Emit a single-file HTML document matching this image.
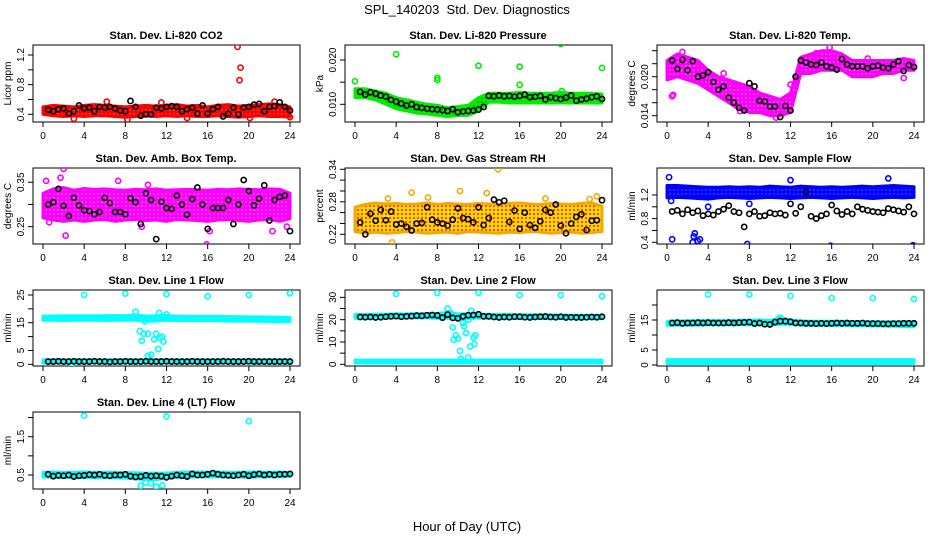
<!DOCTYPE html>
<html><head><meta charset="utf-8"><style>
body{margin:0;background:#fff;width:936px;height:540px;overflow:hidden}
svg{display:block;font-family:"Liberation Sans",sans-serif}
</style></head><body>
<svg id="chart" width="936" height="540" viewBox="0 0 936 540" xmlns="http://www.w3.org/2000/svg">
<defs>
<pattern id="pat-red" width="4" height="4" patternUnits="userSpaceOnUse"><rect width="4" height="4" fill="#ff0000"/><circle cx="2" cy="2" r="0.8" fill="#ff6060"/></pattern>
<pattern id="pat-green" width="4" height="4" patternUnits="userSpaceOnUse"><rect width="4" height="4" fill="#00ee00"/><circle cx="2" cy="2" r="0.9" fill="#008800"/></pattern>
<pattern id="pat-mag" width="4" height="4" patternUnits="userSpaceOnUse"><rect width="4" height="4" fill="#ff00ff"/><circle cx="2" cy="2" r="0.8" fill="#ff80ff"/></pattern>
<pattern id="pat-rh" width="4" height="4" patternUnits="userSpaceOnUse"><rect width="4" height="4" fill="#ffdd00"/><circle cx="2" cy="2" r="1.1" fill="#ff3300"/></pattern>
<pattern id="pat-blue" width="4" height="4" patternUnits="userSpaceOnUse"><rect width="4" height="4" fill="#0000ff"/><circle cx="2" cy="2" r="0.8" fill="#6060ff"/></pattern>
<pattern id="pat-cyan" width="4" height="4" patternUnits="userSpaceOnUse"><rect width="4" height="4" fill="#00ffff"/></pattern>
</defs>
<text x="467" y="14" text-anchor="middle" font-size="13" style="white-space:pre">SPL_140203  Std. Dev. Diagnostics</text>
<text x="467" y="531" text-anchor="middle" font-size="13">Hour of Day (UTC)</text>
</svg>
<script>
const xTicks=[0,4,8,12,16,20,24];
const hours=[0,1,2,3,4,5,6,7,8,9,10,11,12,13,14,15,16,17,18,19,20,21,22,23,24];
const blackTimes=[0.5,1,1.5,2,2.5,3,3.5,4,4.5,5,5.5,6,6.5,7,7.5,8,8.5,9,9.5,10,10.5,11,11.5,12,12.5,13,13.5,14,14.5,15,15.5,16,16.5,17,17.5,18,18.5,19,19.5,20,20.5,21,21.5,22,22.5,23,23.5,24];

const titles=["Stan. Dev. Li-820 CO2","Stan. Dev. Li-820 Pressure","Stan. Dev. Li-820 Temp.","Stan. Dev. Amb. Box Temp.","Stan. Dev. Gas Stream RH","Stan. Dev. Sample Flow","Stan. Dev. Line 1 Flow","Stan. Dev. Line 2 Flow","Stan. Dev. Line 3 Flow","Stan. Dev. Line 4 (LT) Flow"];
const yLabels=["Licor ppm","kPa","degrees C","degrees C","percent","ml/min","ml/min","ml/min","ml/min","ml/min"];
const yLims=[[0.296,1.335],[0.0060,0.0234],[0.01303,0.02488],[0.211,0.382],[0.2021,0.3424],[0.371,1.656],[-0.6,26.8],[-0.76,33.3],[-0.33,25],[0.135,2.145]];
const yTicks=[[0.4,0.6,0.8,1.0,1.2],[0.010,0.015,0.020],[0.014,0.016,0.018,0.020,0.022,0.024],[0.25,0.30,0.35],[0.22,0.24,0.26,0.28,0.30,0.32,0.34],[0.4,0.6,0.8,1.0,1.2],[0,5,10,15,20,25],[0,5,10,15,20,25,30],[0,5,10,15,20],[0.5,1.0,1.5,2.0]];
const yTickLabels=[["0.4","","0.8","","1.2"],["0.010","","0.020"],["0.014","","","0.020","",""],["0.25","","0.35"],["0.22","","","0.28","","","0.34"],["0.4","","0.8","","1.2"],["0","5","","15","","25"],["0","","10","","20","","30"],["0","5","","15",""],["0.5","","1.5",""]];
const colors=["#ff0000","#00ee00","#ff00ff","#ff00ff","#f5a800","#0000ff","#00ffff","#00ffff","#00ffff","#00ffff"];
const fills=["url(#pat-red)","url(#pat-green)","url(#pat-mag)","url(#pat-mag)","url(#pat-rh)","url(#pat-blue)","url(#pat-cyan)","url(#pat-cyan)","url(#pat-cyan)","url(#pat-cyan)"];

const co2Lo=[0.40,0.38,0.37,0.38,0.37,0.38,0.38,0.37,0.36,0.37,0.38,0.37,0.38,0.37,0.38,0.37,0.37,0.38,0.37,0.36,0.37,0.38,0.37,0.37,0.36];
const co2Hi=[0.50,0.52,0.51,0.50,0.52,0.53,0.52,0.51,0.50,0.51,0.52,0.51,0.52,0.53,0.51,0.52,0.50,0.52,0.53,0.51,0.52,0.53,0.54,0.53,0.50];
const presLo=[0.0115,0.0115,0.0110,0.0100,0.0090,0.0085,0.0080,0.0078,0.0075,0.0072,0.0075,0.0075,0.0085,0.0105,0.0105,0.0103,0.0103,0.0103,0.0103,0.0103,0.0103,0.0103,0.0103,0.0103,0.0103];
const presHi=[0.0135,0.0135,0.0130,0.0125,0.0115,0.0110,0.0105,0.0100,0.0098,0.0092,0.0095,0.0098,0.0115,0.0125,0.0125,0.0125,0.0127,0.0125,0.0125,0.0125,0.0127,0.0125,0.0125,0.0125,0.0123];
const tempLo=[0.0195,0.0200,0.0195,0.0190,0.0180,0.0170,0.0160,0.0150,0.0145,0.0145,0.0140,0.0140,0.0145,0.0205,0.0205,0.0210,0.0210,0.0210,0.0200,0.0200,0.0200,0.0205,0.0205,0.0210,0.0210];
const tempHi=[0.0225,0.0235,0.0230,0.0225,0.0210,0.0200,0.0195,0.0190,0.0185,0.0175,0.0170,0.0165,0.0175,0.0230,0.0235,0.0240,0.0240,0.0235,0.0225,0.0225,0.0225,0.0225,0.0225,0.0228,0.0225];
const ambLo=[0.270,0.265,0.262,0.265,0.262,0.265,0.266,0.262,0.265,0.266,0.264,0.265,0.262,0.266,0.265,0.264,0.262,0.265,0.266,0.264,0.262,0.265,0.266,0.262,0.268];
const ambHi=[0.325,0.335,0.338,0.332,0.336,0.334,0.335,0.333,0.332,0.334,0.333,0.335,0.332,0.333,0.334,0.333,0.332,0.334,0.333,0.335,0.334,0.333,0.335,0.334,0.325];
const rhLo=[0.225,0.222,0.224,0.222,0.223,0.225,0.224,0.222,0.223,0.224,0.222,0.225,0.224,0.223,0.222,0.224,0.223,0.225,0.224,0.222,0.223,0.224,0.222,0.223,0.225];
const rhHi=[0.270,0.275,0.278,0.276,0.277,0.275,0.276,0.278,0.275,0.277,0.276,0.275,0.277,0.276,0.275,0.277,0.278,0.276,0.275,0.277,0.276,0.275,0.277,0.278,0.272];
const flowLo=[1.15,1.16,1.15,1.14,1.13,1.15,1.16,1.15,1.14,1.15,1.16,1.15,1.14,1.15,1.16,1.15,1.14,1.15,1.16,1.15,1.14,1.15,1.16,1.15,1.16];
const flowHi=[1.36,1.36,1.35,1.34,1.33,1.33,1.34,1.33,1.34,1.33,1.35,1.34,1.33,1.35,1.34,1.33,1.34,1.33,1.34,1.35,1.34,1.35,1.36,1.35,1.34];
const l1HiLo=[15.9,15.9,15.8,15.9,15.9,15.9,15.8,15.9,15.9,15.9,15.6,15.6,15.9,15.8,15.8,15.7,15.8,15.7,15.6,15.6,15.6,15.5,15.5,15.4,15.4];
const l1HiHi=[17.4,17.4,17.5,17.5,17.5,17.5,17.5,17.6,17.5,17.8,17.4,17.5,17.6,17.4,17.3,17.3,17.3,17.3,17.2,17.2,17.1,17.1,17.0,17.0,16.9];
const l1LoLo=hours.map(()=>0.5);
const l1LoHi=hours.map(()=>1.6);
const l2HiLo=[20.6,20.6,20.7,20.7,20.8,20.8,20.8,20.8,20.6,20.6,20.5,20.5,20.7,20.7,20.6,20.6,20.5,20.5,20.5,20.5,20.5,20.5,20.4,20.4,20.4];
const l2HiHi=[22.3,22.3,22.4,22.5,22.6,22.6,22.7,22.7,22.8,23.2,22.6,22.6,22.5,22.4,22.3,22.3,22.2,22.2,22.2,22.1,22.1,22.0,22.0,22.0,21.9];
const l2LoLo=hours.map(()=>0.6);
const l2LoHi=hours.map(()=>1.9);
const l3HiLo=[13.2,13.3,13.3,13.3,13.4,13.4,13.4,13.4,13.4,13.4,13.4,13.6,13.6,13.3,13.2,13.2,13.2,13.2,13.1,13.1,13.0,13.0,12.9,12.8,12.8];
const l3HiHi=[14.6,14.7,14.7,14.8,14.8,14.8,14.8,14.9,14.9,15.0,14.8,15.8,15.0,14.7,14.6,14.6,14.6,14.6,14.5,14.5,14.5,14.4,14.4,14.4,14.3];
const l3LoLo=hours.map(()=>0.5);
const l3LoHi=hours.map(()=>1.8);
const l4Lo=[0.45,0.44,0.44,0.43,0.44,0.43,0.43,0.43,0.42,0.40,0.38,0.38,0.42,0.44,0.44,0.45,0.45,0.45,0.45,0.45,0.44,0.45,0.45,0.45,0.46];
const l4Hi=[0.57,0.58,0.57,0.57,0.58,0.57,0.57,0.57,0.56,0.56,0.55,0.55,0.55,0.57,0.58,0.58,0.58,0.58,0.57,0.57,0.58,0.58,0.57,0.58,0.56];
const bands=[[[co2Lo,co2Hi]],[[presLo,presHi]],[[tempLo,tempHi]],[[ambLo,ambHi]],[[rhLo,rhHi]],[[flowLo,flowHi]],[[l1HiLo,l1HiHi],[l1LoLo,l1LoHi]],[[l2HiLo,l2HiHi],[l2LoLo,l2LoHi]],[[l3HiLo,l3HiHi],[l3LoLo,l3LoHi]],[[l4Lo,l4Hi]]];

const outX=[[18.9,19.1,19.2,8.2,14,20.1,24,6.2,22.5,3.0,11.5],
[0,4,8,8,12,16,16,20,24,5.2,20.1],
[0.5,0.6,1.5,5.5,7.1,9.5,10.0,10.6,11.5,12,15.8,23,14.5,19.5],
[0.3,1.7,2.0,2.2,7.3,10.2,15.9,0.6,22.3,23.7,9.6,16.2],
[13.9,10.2,5.5,3.2,7.1,23.5,0.3,3.6,22.8,12.8,18.5],
[0.2,0.5,2.5,2.6,2.7,3.0,3.2,7.8,15.9,23.9,12.0,21.5,4,8,0.4],
[4,8,12,16,20,24,9,9.4,9.8,9.6,10.2,10.2,10.5,10.8,11,11.2,11.3,11.4,11.6,11.7,12.0,9.9,2.8],
[4,8,12,16,20,24,9,9.3,9.5,9.8,10,10.2,10.3,10.5,10.6,10.8,11,11.2,11.5,11.7,11.3,11,9.6,11.6],
[4,8,12,16,20,24,11,10.9],
[4,12,20,9.5,10.5,11,11.6,10]];
const outY=[[1.31,0.86,1.03,0.33,0.35,0.35,0.36,0.57,0.57,0.34,0.56],
[0.0152,0.0213,0.0155,0.0160,0.0187,0.0185,0.0144,0.0236,0.0182,0.0105,0.0130],
[0.0170,0.0172,0.0238,0.0205,0.0147,0.0146,0.0145,0.0137,0.0150,0.0188,0.0245,0.0198,0.0236,0.0228],
[0.353,0.36,0.38,0.23,0.353,0.344,0.210,0.26,0.24,0.25,0.25,0.24],
[0.34,0.30,0.297,0.286,0.288,0.29,0.25,0.205,0.285,0.296,0.286],
[1.5,0.45,0.4,0.5,0.55,0.42,0.45,0.37,0.34,0.35,1.45,1.48,1.0,1.05,1.1],
[25,25.5,25.3,24.5,25,25.6,19,12,11,8.5,11,3,3.5,9,11,5.5,18.5,9.5,10,8.2,18,15.5,0.2],
[31.5,32,32,31,31,30.5,25,23,16.5,13,11.5,6,2.5,18.5,17,14,3,8,12,13,24,20,11,9],
[23.5,23.5,23,22.3,22.3,22,15.8,15],
[2.05,2.03,1.9,0.22,0.28,0.2,0.23,0.3]];

const blackVals=[
[0.46,0.44,0.47,0.48,0.41,0.44,0.52,0.48,0.49,0.44,0.50,0.49,0.50,0.48,0.45,0.44,0.58,0.50,0.38,0.40,0.40,0.49,0.48,0.50,0.51,0.50,0.44,0.47,0.49,0.41,0.52,0.41,0.47,0.50,0.37,0.41,0.49,0.40,0.49,0.50,0.53,0.54,0.44,0.50,0.51,0.56,0.50,0.45],
[.0128,.0122,.0127,.0124,.0120,.0117,.0110,.0106,.0102,.0097,.0100,.0094,.0092,.0090,.0089,.0088,.0087,.0085,.0089,.0082,.0084,.0085,.0086,.0088,.0094,.0119,.0118,.0120,.0118,.0119,.0117,.0119,.0122,.0116,.0117,.0119,.0111,.0116,.0114,.0112,.0115,.0120,.0108,.0111,.0113,.0116,.0118,.0112],
[.0225,.0212,.0226,.0210,.0224,.0200,.0202,.0207,.0192,.0180,.0185,.0168,.0160,.0152,.0148,.0190,.0185,.0163,.0162,.0154,.0154,.0138,.0155,.0148,.0200,.0225,.0222,.0219,.0218,.0222,.0216,.0214,.0211,.0227,.0219,.0216,.0216,.0216,.0213,.0216,.0217,.0214,.0213,.0219,.0224,.0209,.0218,.0215],
[0.30,0.305,0.335,0.297,0.274,0.315,0.298,0.287,0.285,0.278,0.283,0.315,0.303,0.283,0.283,0.278,0.314,0.305,0.256,0.325,0.310,0.222,0.306,0.292,0.290,0.320,0.300,0.277,0.312,0.338,0.300,0.245,0.292,0.292,0.292,0.310,0.256,0.300,0.355,0.330,0.298,0.313,0.343,0.264,0.310,0.317,0.320,0.240],
[0.242,0.22,0.258,0.245,0.265,0.246,0.262,0.238,0.24,0.234,0.227,0.240,0.241,0.270,0.247,0.242,0.240,0.236,0.247,0.268,0.250,0.248,0.242,0.270,0.237,0.250,0.284,0.279,0.282,0.243,0.264,0.230,0.260,0.237,0.232,0.244,0.265,0.260,0.275,0.236,0.222,0.240,0.252,0.257,0.228,0.245,0.246,0.283],
[0.92,0.94,0.88,0.95,0.90,0.93,0.85,0.88,0.86,0.92,0.96,1.02,0.92,0.90,0.66,0.88,0.92,0.84,0.85,0.90,0.88,0.89,0.86,1.05,0.89,1.00,1.25,0.84,0.80,0.85,0.88,1.03,0.93,0.87,0.92,0.88,1.00,0.96,0.94,0.92,0.91,0.90,0.97,0.95,0.93,0.91,1.00,0.88],
[1.0,1.0,1.1,1.0,1.0,1.1,1.0,1.0,1.0,1.1,1.0,1.0,0.9,1.0,1.0,1.1,1.0,1.0,1.0,1.1,1.0,1.0,1.0,1.1,1.0,1.0,1.0,1.0,1.1,1.0,1.0,1.0,1.0,1.0,1.1,1.0,1.0,1.0,1.0,1.1,1.0,1.0,1.0,1.0,1.0,1.0,1.0,1.0],
[21.2,21.1,21.2,21.0,21.1,21.3,21.5,21.6,21.3,21.5,21.6,21.8,21.7,22.0,22.1,21.9,20.9,22.3,20.8,20.6,21.5,22.0,22.1,22.4,21.5,21.5,21.2,21.0,21.2,21.1,21.3,21.3,21.1,21.0,21.2,21.3,21.4,21.2,21.1,21.3,21.0,21.1,21.0,21.0,21.1,21.2,21.1,21.3],
[14.0,14.1,13.9,14.0,14.0,14.1,14.0,14.1,14.0,14.0,14.0,14.1,14.0,14.1,14.2,14.3,13.8,14.0,13.6,13.5,14.3,14.6,14.6,14.4,14.0,14.0,13.9,13.9,13.8,13.9,13.8,13.9,14.0,13.9,14.0,13.9,13.9,14.0,13.8,13.8,13.8,13.7,13.7,13.8,13.8,13.9,13.9,13.9],
[0.52,0.47,0.49,0.48,0.50,0.46,0.48,0.49,0.51,0.50,0.52,0.49,0.48,0.50,0.50,0.52,0.47,0.45,0.46,0.49,0.47,0.48,0.47,0.44,0.47,0.50,0.48,0.46,0.53,0.50,0.50,0.52,0.55,0.52,0.50,0.49,0.48,0.50,0.52,0.48,0.51,0.53,0.50,0.52,0.50,0.52,0.52,0.53]];

const NS="http://www.w3.org/2000/svg";
const svg=document.getElementById('chart');
const colX0=[43,355,667], rowTop=[45,168,290,412], rowBot=[122,244,366,489], pxW=247;
function mk(tag,attrs,parent){const e=document.createElementNS(NS,tag);for(const k in attrs)e.setAttribute(k,attrs[k]);(parent||svg).appendChild(e);return e;}

titles.forEach((title,p)=>{
  const c=p%3, r=Math.floor(p/3);
  const x0=colX0[c], top=rowTop[r], bot=rowBot[r];
  const lim=yLims[p];
  const sx=v=>x0+v/24*pxW;
  const sy=v=>bot-(v-lim[0])/(lim[1]-lim[0])*(bot-top);
  const g=mk('g',{});
  
  
  const clipId='clip'+p;
  const cp=mk('clipPath',{id:clipId},g);
  mk('rect',{x:x0-10,y:top,width:267,height:bot-top},cp);
  const t=mk('text',{x:x0+123,y:top-6,'text-anchor':'middle','font-size':'11','font-weight':'bold'},g);
  t.textContent=title;
  
  
  const yl=mk('text',{x:0,y:0,'text-anchor':'middle','font-size':'10',transform:`translate(${x0-32},${(top+bot)/2}) rotate(-90)`},g);
  yl.textContent=yLabels[p];
  
  
  const box=mk('rect',{x:x0-10,y:top,width:267,height:bot-top,fill:'none',stroke:'#000','stroke-width':1},g);
  
  
  xTicks.forEach(v=>{
    mk('line',{x1:sx(v),x2:sx(v),y1:bot,y2:bot+5,stroke:'#000'},g);
    const tl=mk('text',{x:sx(v),y:bot+17,'text-anchor':'middle','font-size':'10'},g);
    tl.textContent=v;
    
    
  });
  const yt=yTicks[p];
  mk('line',{x1:x0-10,x2:x0-10,y1:sy(yt[0]),y2:sy(yt[yt.length-1]),stroke:'#000'},g);
  yt.forEach((v,i)=>{
    mk('line',{x1:x0-15,x2:x0-10,y1:sy(v),y2:sy(v),stroke:'#000'},g);
    if(yTickLabels[p][i]){
      const tl=mk('text',{x:0,y:0,'text-anchor':'middle','font-size':'10',transform:`translate(${x0-19},${sy(v)}) rotate(-90)`},g);
      tl.textContent=yTickLabels[p][i];
      
      
    }
  });
  const data=mk('g',{'clip-path':`url(#${clipId})`},g);
  const col=colors[p];
  bands[p].forEach(([lo,hi])=>{
    const pts=hours.map((h,i)=>sx(h)+','+sy(hi[i])).concat(hours.slice().reverse().map((h,j)=>{const i=hours.length-1-j;return sx(h)+','+sy(lo[i]);}));
    const pg=mk('polygon',{points:pts.join(' '),fill:fills[p],stroke:col,'stroke-width':3,'stroke-linejoin':'round'},data);
    
    
  });
  outX[p].forEach((x,i)=>{
    const c1=mk('circle',{cx:sx(x),cy:sy(outY[p][i]),r:2.6,fill:'none',stroke:col,'stroke-width':1.6},data);
    
    
  });
  blackTimes.forEach((x,i)=>{
    const c1=mk('circle',{cx:sx(x),cy:sy(blackVals[p][i]),r:2.6,fill:'none',stroke:'#000','stroke-width':1.6},data);
    
    
  });
  svg.appendChild(g);
});
</script>
</body></html>
